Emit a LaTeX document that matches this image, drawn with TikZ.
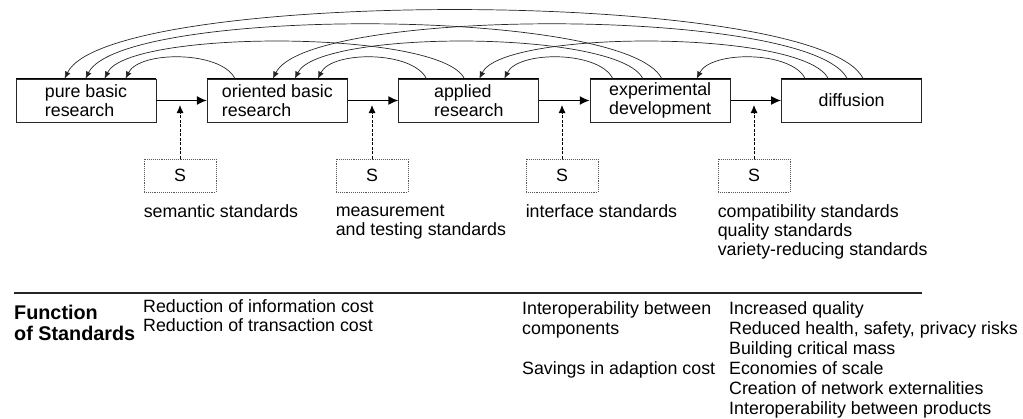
\documentclass[tikz,border=0pt]{standalone}
\usepackage{fontspec}
\setmainfont{Liberation Sans}
\usetikzlibrary{positioning,arrows.meta}
\begin{document}
\begin{tikzpicture}[x=1pt,y=-1pt,node distance=191.4pt]
\tikzstyle{stagebox} = [rectangle, draw=black!85, line width=0.9pt, minimum width=140pt, minimum height=43pt, inner sep=0pt, align=left, font=\fontsize{17.8}{19}\selectfont]
\tikzstyle{sbox} = [rectangle, draw=black!65, densely dotted, line width=0.9pt, minimum width=72pt, minimum height=33pt, font=\fontsize{17.8}{19}\selectfont]
\tikzstyle{stdlabel} = [inner sep=0pt, align=left, font=\fontsize{17.8}{19}\selectfont]
\tikzstyle{fnlabel} = [inner sep=0pt, align=left, anchor=north west, font=\fontsize{17.8}{20}\selectfont]
\tikzstyle{forward} = [-{Latex[length=10pt,width=9pt]}, line width=1.6pt]
\tikzstyle{feedback} = [-{Latex[length=7pt,width=6pt]}, line width=0.7pt, black!85]
\tikzstyle{feed} = [-{Latex[length=8pt,width=7pt]}, line width=0.9pt, dash pattern=on 3pt off 1.5pt]
\useasboundingbox (0,0) rectangle (1023,418);

% the five stages
\node (pb) [stagebox] at (86,100.5) {pure basic\\research};
\node (ob) [stagebox, right of=pb] {oriented basic\\research};
\node (ar) [stagebox, right of=ob] {applied\\research};
\node (ed) [stagebox, right of=ar] {experimental\\development};
\node (df) [stagebox, right of=ed] {diffusion};
\draw [line width=1.8pt] (pb.north west) -- (pb.north east);
\draw [line width=1.8pt] (ob.north west) -- (ob.north east);
\draw [line width=1.8pt] (ar.north west) -- (ar.north east);
\draw [line width=1.8pt] (ed.north west) -- (ed.north east);
\draw [line width=1.8pt] (df.north west) -- (df.north east);

\draw [forward] (pb) -- (ob);
\draw [forward] (ob) -- (ar);
\draw [forward] (ar) -- (ed);
\draw [forward] (ed) -- (df);

% feedback loops
\draw [feedback] ([xshift=28pt]ob.north west) .. controls +(-14,-28) and +(14,-28) .. ([xshift=110pt]pb.north west);
\draw [feedback] ([xshift=28pt]ar.north west) .. controls +(-14,-28) and +(14,-28) .. ([xshift=111pt]ob.north west);
\draw [feedback] ([xshift=23pt]ed.north west) .. controls +(-14,-28) and +(14,-28) .. ([xshift=106pt]ar.north west);
\draw [feedback] ([xshift=24pt]df.north west) .. controls +(-14,-28) and +(14,-28) .. ([xshift=107pt]ed.north west);
\draw [feedback] ([xshift=66pt]ar.north west) .. controls +(-24,-49) and +(24,-49) .. ([xshift=89pt]pb.north west);
\draw [feedback] ([xshift=53pt]ed.north west) .. controls +(-24,-49) and +(24,-49) .. ([xshift=88pt]ob.north west);
\draw [feedback] ([xshift=47pt]df.north west) .. controls +(-24,-49) and +(24,-49) .. ([xshift=81pt]ar.north west);
\draw [feedback] ([xshift=72pt]ed.north west) .. controls +(-36,-72) and +(36,-72) .. ([xshift=70pt]pb.north west);
\draw [feedback] ([xshift=66pt]df.north west) .. controls +(-36,-72) and +(36,-72) .. ([xshift=66pt]ob.north west);
\draw [feedback] ([xshift=82pt]df.north west) .. controls +(-45,-91) and +(45,-91) .. ([xshift=49pt]pb.north west);

% standards
\node (s1) [sbox] at (180,175.5) {S};
\node (s2) [sbox] at (372,175.5) {S};
\node (s3) [sbox] at (562,175.5) {S};
\node (s4) [sbox] at (754,175.5) {S};
\coordinate (t1) at (180,105);
\coordinate (t2) at (372,105);
\coordinate (t3) at (562,105);
\coordinate (t4) at (754,105);
\draw [feed] (s1) -- (t1);
\draw [feed] (s2) -- (t2);
\draw [feed] (s3) -- (t3);
\draw [feed] (s4) -- (t4);

\node (l1) [stdlabel, below right=12pt and 0pt of s1.south west] {semantic standards};
\node (l2) [stdlabel, below right=12pt and 0pt of s2.south west] {measurement\\and testing standards};
\node (l3) [stdlabel, below right=12pt and 0pt of s3.south west] {interface standards};
\node (l4) [stdlabel, below right=12pt and 0pt of s4.south west] {compatibility standards\\quality standards\\variety-reducing standards};

% function of standards
\draw [line width=1.3pt, black!85] (14,293) -- (922,293);
\node (fn) [fnlabel, font=\bfseries\fontsize{19.8}{21}\selectfont] at (14,305) {Function\\of Standards};
\node (f1) [fnlabel, font=\fontsize{17.8}{19.5}\selectfont] at (143,299) {Reduction of information cost\\Reduction of transaction cost};
\node (f2) [fnlabel] at (522,301) {Interoperability between\\components\\[20pt]Savings in adaption cost};
\node (f3) [fnlabel] at (729,301) {Increased quality\\Reduced health, safety, privacy risks\\Building critical mass\\Economies of scale\\Creation of network externalities\\Interoperability between products};
\end{tikzpicture}
\end{document}
